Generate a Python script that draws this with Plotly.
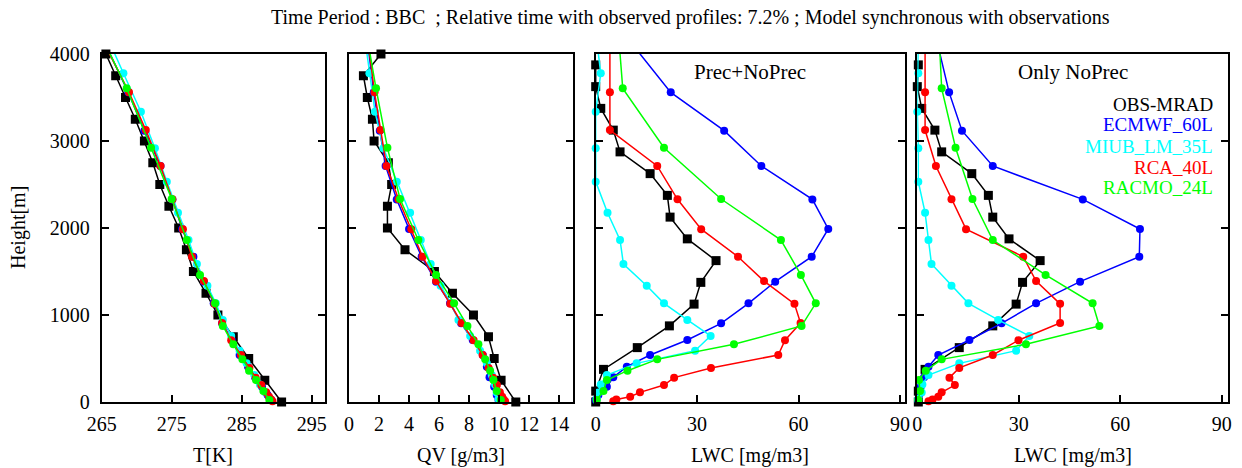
import plotly.graph_objects as go

# ---------------- data ----------------
H_OBS = [0, 250, 500, 750, 1000, 1250, 1500, 1750, 2000, 2250, 2500, 2750, 3000, 3250, 3500, 3750, 4000]
T_OBS = [290.7, 288.3, 286.0, 283.8, 281.6, 279.9, 278.1, 277.1, 276.0, 274.6, 273.3, 272.3, 271.1, 269.8, 268.4, 267.0, 265.6]
QV_OBS = [11.11, 10.13, 9.67, 9.29, 8.29, 6.89, 5.69, 3.73, 2.56, 2.56, 2.84, 2.62, 1.67, 1.56, 1.22, 0.96, 2.13]

H_OBS_LWC = [0, 125, 375, 625, 875, 1125, 1375, 1625, 1875, 2125, 2375, 2625, 2875, 3125, 3375, 3625, 3875]
LWC_OBS_ALL = [0, 0, 2.3, 12.3, 21.8, 29.1, 31.1, 35.6, 27.1, 22.0, 21.2, 16.1, 7.2, 5.2, 1.5, 0, 0]
LWC_OBS_NOPREC = [0.3, 0.3, 2.3, 12.4, 22.3, 29.2, 31.1, 36.3, 27.1, 22.3, 21.0, 16.1, 7.2, 5.2, 1.3, 0, 0.3]

H_ECMWF = [23, 80, 176, 284, 406, 540, 713, 904, 1134, 1383, 1670, 1989, 2329, 2713, 3119, 3559, 4050]
T_ECMWF = [289.2, 288.7, 287.9, 286.9, 285.9, 284.7, 283.6, 282.2, 281.0, 279.6, 278.1, 276.5, 275.1, 273.4, 271.1, 268.8, 265.9]
QV_ECMWF = [9.96, 9.84, 9.67, 9.36, 9.18, 8.91, 8.24, 7.47, 6.73, 5.80, 4.84, 4.00, 3.18, 2.44, 2.05, 1.65, 1.30]
LWC_ECMWF_ALL = [0, 0.8, 3.3, 5.2, 9.2, 16.1, 27.1, 37.1, 45.2, 53.1, 63.9, 68.8, 64.1, 49.0, 38.0, 22.2, 12.1]
LWC_ECMWF_NOPREC = [0.2, 0.5, 1.0, 2.0, 3.3, 6.2, 15.4, 24.9, 35.1, 48.1, 65.6, 65.8, 48.9, 22.3, 13.2, 9.4, 6.4]

H_MIUB = [35, 110, 200, 310, 444, 590, 760, 943, 1134, 1337, 1586, 1862, 2176, 2533, 2916, 3337, 3778, 4250]
T_MIUB = [289.1, 288.4, 287.6, 286.8, 285.7, 284.7, 283.5, 282.3, 281.3, 280.1, 278.6, 277.4, 275.9, 274.3, 272.6, 270.6, 268.1, 265.5]
QV_MIUB = [9.96, 9.84, 9.73, 9.51, 9.18, 8.73, 8.07, 7.29, 6.80, 6.10, 5.44, 4.78, 4.07, 3.18, 2.29, 1.73, 1.36, 1.00]
LWC_MIUB_ALL = [0.3, 0.8, 1.5, 3.3, 12.1, 29.4, 34.0, 27.1, 20.2, 15.1, 8.2, 7.2, 3.5, 0, 0, 0, 1.5, 0]
LWC_MIUB_NOPREC = [0.3, 1.3, 1.5, 3.3, 12.4, 29.2, 33.1, 23.9, 15.1, 10.1, 4.2, 3.3, 2.3, 0.3, 0.3, 0, 0.3, 0.3]

H_RCA = [8, 30, 61, 111, 195, 280, 392, 540, 710, 908, 1128, 1390, 1670, 1987, 2330, 2713, 3126, 3559, 4100]
T_RCA = [289.4, 289.2, 288.9, 288.5, 287.8, 287.0, 286.1, 284.9, 283.5, 282.2, 281.1, 279.6, 277.9, 276.6, 275.1, 273.4, 271.3, 268.9, 265.5]
QV_RCA = [10.40, 10.30, 10.20, 10.05, 9.85, 9.60, 9.30, 8.90, 8.30, 7.50, 6.75, 5.80, 4.90, 4.15, 3.30, 2.50, 2.10, 1.70, 1.30]
LWC_RCA_ALL = [5.2, 6.1, 10.2, 13.1, 20.2, 23.2, 34.1, 54.0, 56.0, 60.6, 58.8, 49.8, 42.1, 31.2, 24.2, 18.2, 4.2, 4.2, 4.2]
LWC_RCA_NOPREC = [3.3, 4.5, 6.2, 7.2, 11.1, 9.5, 12.4, 22.3, 29.9, 42.2, 42.2, 35.1, 31.3, 14.4, 10.1, 5.5, 2.3, 2.3, 2.3]

H_RACMO = [23, 126, 253, 360, 490, 663, 874, 1134, 1460, 1862, 2333, 2923, 3605, 4400]
T_RACMO = [288.95, 288.1, 287.05, 286.05, 285.1, 283.8, 282.3, 281.2, 279.05, 277.15, 275.0, 272.05, 268.57, 263.8]
QV_RACMO = [10.11, 9.84, 9.62, 9.40, 9.07, 8.62, 7.89, 7.00, 5.80, 4.62, 3.40, 2.56, 1.80, 1.00]
LWC_RACMO_ALL = [0.3, 2.3, 3.3, 9.4, 18.2, 40.9, 60.9, 65.1, 60.7, 54.8, 37.1, 20.2, 8.0, 6.4]
LWC_RACMO_NOPREC = [0.3, 0.8, 0.5, 2.5, 7.2, 32.1, 53.8, 51.8, 37.9, 22.3, 16.3, 11.3, 7.2, 6.2]

SERIES_NAMES = ["OBS-MRAD", "ECMWF_60L", "MIUB_LM_35L", "RCA_40L", "RACMO_24L"]
X_TICKS_T = [265, 275, 285, 295]
X_TICKS_QV = [0, 2, 4, 6, 8, 10, 12, 14]
X_TICKS_LWC = [0, 30, 60, 90]
Y_TICKS = [0, 1000, 2000, 3000, 4000]

TITLE = "Time Period : BBC  ; Relative time with observed profiles: 7.2% ; Model synchronous with observations"

# ---------------- style ----------------
W, H = 1242, 468
FONT = "Liberation Serif"
COLORS = ["#000000", "#0000ff", "#00ffff", "#ff0000", "#00ff00"]

def px_x(p):
    return p / W

def px_y(p):
    return 1 - p / H

X_DOMAINS = [(101.7, 325.0), (349.0, 572.7), (595.7, 905.0), (917.3, 1228.3)]
X_RANGES = [[265, 296.9], [0, 14.9], [0, 91.5], [0, 91.9]]
Y_DOM = [px_y(402), px_y(54)]

fig = go.Figure()

model_data = [
    (H_OBS, T_OBS, H_OBS, QV_OBS, H_OBS_LWC, LWC_OBS_ALL, LWC_OBS_NOPREC),
    (H_ECMWF, T_ECMWF, H_ECMWF, QV_ECMWF, H_ECMWF, LWC_ECMWF_ALL, LWC_ECMWF_NOPREC),
    (H_MIUB, T_MIUB, H_MIUB, QV_MIUB, H_MIUB, LWC_MIUB_ALL, LWC_MIUB_NOPREC),
    (H_RCA, T_RCA, H_RCA, QV_RCA, H_RCA, LWC_RCA_ALL, LWC_RCA_NOPREC),
    (H_RACMO, T_RACMO, H_RACMO, QV_RACMO, H_RACMO, LWC_RACMO_ALL, LWC_RACMO_NOPREC),
]

def add(panel, xs, hs, k):
    xa = "x" if panel == 1 else f"x{panel}"
    ya = "y" if panel == 1 else f"y{panel}"
    color = COLORS[k]
    fig.add_trace(go.Scatter(x=xs, y=hs, mode="lines", line=dict(color=color, width=1.5),
                             xaxis=xa, yaxis=ya, showlegend=False, hoverinfo="skip"))
    mx = [x for x, h in zip(xs, hs) if 0 <= h <= 4000]
    mh = [h for h in hs if 0 <= h <= 4000]
    if k == 0:
        marker = dict(symbol="square", size=9, color=color)
    else:
        marker = dict(symbol="circle", size=8, color=color)
    fig.add_trace(go.Scatter(x=mx, y=mh, mode="markers", marker=marker, cliponaxis=False,
                             xaxis=xa, yaxis=ya, showlegend=False, name=SERIES_NAMES[k]))

for k, (ht, t, hq, qv, hl, lwa, lwn) in enumerate(model_data):
    add(1, t, ht, k)
    add(2, qv, hq, k)
    add(3, lwa, hl, k)
    add(4, lwn, hl, k)

tickvals_x = [X_TICKS_T, X_TICKS_QV, X_TICKS_LWC, X_TICKS_LWC]
layout = dict(
    template="none",
    width=W, height=H, autosize=False,
    margin=dict(l=0, r=0, t=0, b=0, pad=0),
    paper_bgcolor="white", plot_bgcolor="white",
    font=dict(family=FONT, size=20, color="black"),
    showlegend=False,
)
for i in range(4):
    n = "" if i == 0 else str(i + 1)
    layout["xaxis" + n] = dict(
        domain=[px_x(X_DOMAINS[i][0]), px_x(X_DOMAINS[i][1])], range=X_RANGES[i],
        anchor="y" + n, tickvals=tickvals_x[i], ticks="inside", ticklen=7, tickwidth=1.5,
        tickcolor="black", showline=True, mirror=True, linecolor="black", linewidth=2,
        showgrid=False, zeroline=False, tickfont=dict(family=FONT, size=20),
        ticklabelstandoff=3, automargin=False,
    )
    layout["yaxis" + n] = dict(
        domain=Y_DOM, range=[0, 4000], anchor="x" + n, tickvals=Y_TICKS,
        ticks="inside", ticklen=7, tickwidth=1.5, tickcolor="black",
        showline=True, mirror="ticks", linecolor="black", linewidth=2,
        showgrid=False, zeroline=False, showticklabels=(i == 0),
        tickfont=dict(family=FONT, size=20), ticklabelstandoff=6, automargin=False,
    )
fig.update_layout(**layout)

ann = []
ann.append(dict(text=TITLE, x=px_x(690), y=px_y(18), xref="paper", yref="paper",
                xanchor="center", yanchor="middle", showarrow=False, font=dict(size=20)))
xtitles = ["T[K]", "QV [g/m3]", "LWC [mg/m3]", "LWC [mg/m3]"]
xcent = [213, 461, 750, 1073]
for t, c in zip(xtitles, xcent):
    ann.append(dict(text=t, x=px_x(c), y=px_y(455), xref="paper", yref="paper",
                    xanchor="center", yanchor="middle", showarrow=False, font=dict(size=20)))
ann.append(dict(text="Height[m]", x=px_x(18), y=px_y(228), xref="paper", yref="paper",
                xanchor="center", yanchor="middle", textangle=-90, showarrow=False, font=dict(size=20)))
ann.append(dict(text="Prec+NoPrec", x=px_x(750), y=px_y(72), xref="paper", yref="paper",
                xanchor="center", yanchor="middle", showarrow=False, font=dict(size=21)))
ann.append(dict(text="Only NoPrec", x=px_x(1073), y=px_y(72), xref="paper", yref="paper",
                xanchor="center", yanchor="middle", showarrow=False, font=dict(size=21)))
leg_y = [104, 125, 146, 167, 187]
for name, col, yy in zip(SERIES_NAMES, COLORS, leg_y):
    ann.append(dict(text=name, x=px_x(1215), y=px_y(yy), xref="paper", yref="paper",
                    xanchor="right", yanchor="middle", showarrow=False,
                    font=dict(size=19, color=col)))
fig.update_layout(annotations=ann)

fig.write_html("out.html")
